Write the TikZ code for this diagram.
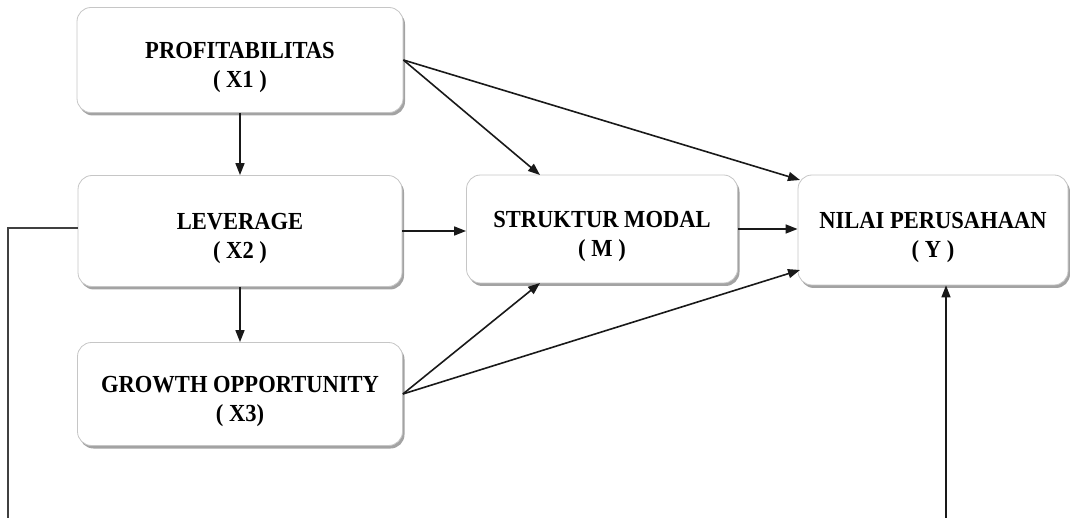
\documentclass[tikz,border=0pt]{standalone}
\usepackage{fontspec}
\setmainfont{Liberation Serif}
\newfontfamily\boxfont{Liberation Serif Bold}[FakeStretch=0.92]
\newcommand\topgap{\rule{0pt}{31pt}}
\usetikzlibrary{shadows,arrows.meta,calc}
\begin{document}
\begin{tikzpicture}[x=1pt,y=-1pt,
  varbox/.style={draw=gray!45, line width=0.8pt, fill=white, rounded corners=14pt,
    drop shadow={shadow xshift=2pt, shadow yshift=-3pt, fill=black!60, opacity=0.6},
    align=center, inner sep=0pt,
    font=\fontsize{24.5}{28.5}\boxfont},
  conn/.style={line width=1.6pt, draw=black!90, -{Triangle[length=12pt,width=9pt]}},
  plain/.style={line width=1.3pt, draw=black!75}]
\useasboundingbox (0,0) rectangle (1070,518);
\node[varbox, minimum width=326pt, minimum height=105pt] (x1) at (240,60) {\topgap PROFITABILITAS\\( X1 )};
\node[varbox, minimum width=324pt, minimum height=111pt] (x2) at (240,231) {\topgap LEVERAGE\\( X2 )};
\node[varbox, minimum width=325pt, minimum height=103pt] (x3) at (240,394) {\topgap GROWTH OPPORTUNITY\\( X3)};
\node[varbox, minimum width=271pt, minimum height=108pt] (m) at (602,229) {\topgap STRUKTUR MODAL\\( M )};
\node[varbox, minimum width=270pt, minimum height=110pt] (y) at (933,230) {\topgap NILAI PERUSAHAAN\\( Y )};
\coordinate (mtop) at (540,175);
\coordinate (mbot) at (540,283);
\coordinate (ytop) at (800,180);
\coordinate (ybot) at (800,270);
\coordinate (lc) at (8,228);
\coordinate (lb) at (8,518);
\coordinate (rb) at (946,518);
\draw[conn] (x1.south) -- (x2.north);
\draw[conn] (x2.south) -- (x3.north);
\draw[conn] (x2.east) -- (x2.east -| m.west);
\draw[conn] (m.east) -- (m.east -| y.west);
\draw[conn] (x1.east) -- (mtop);
\draw[conn] (x1.east) -- (ytop);
\draw[conn] (x3.east) -- (mbot);
\draw[conn] (x3.east) -- (ybot);
\draw[plain] (x2.west |- lc) -- (lc) -- (lb);
\draw[conn] (rb) -- (rb |- y.south);
\end{tikzpicture}
\end{document}
